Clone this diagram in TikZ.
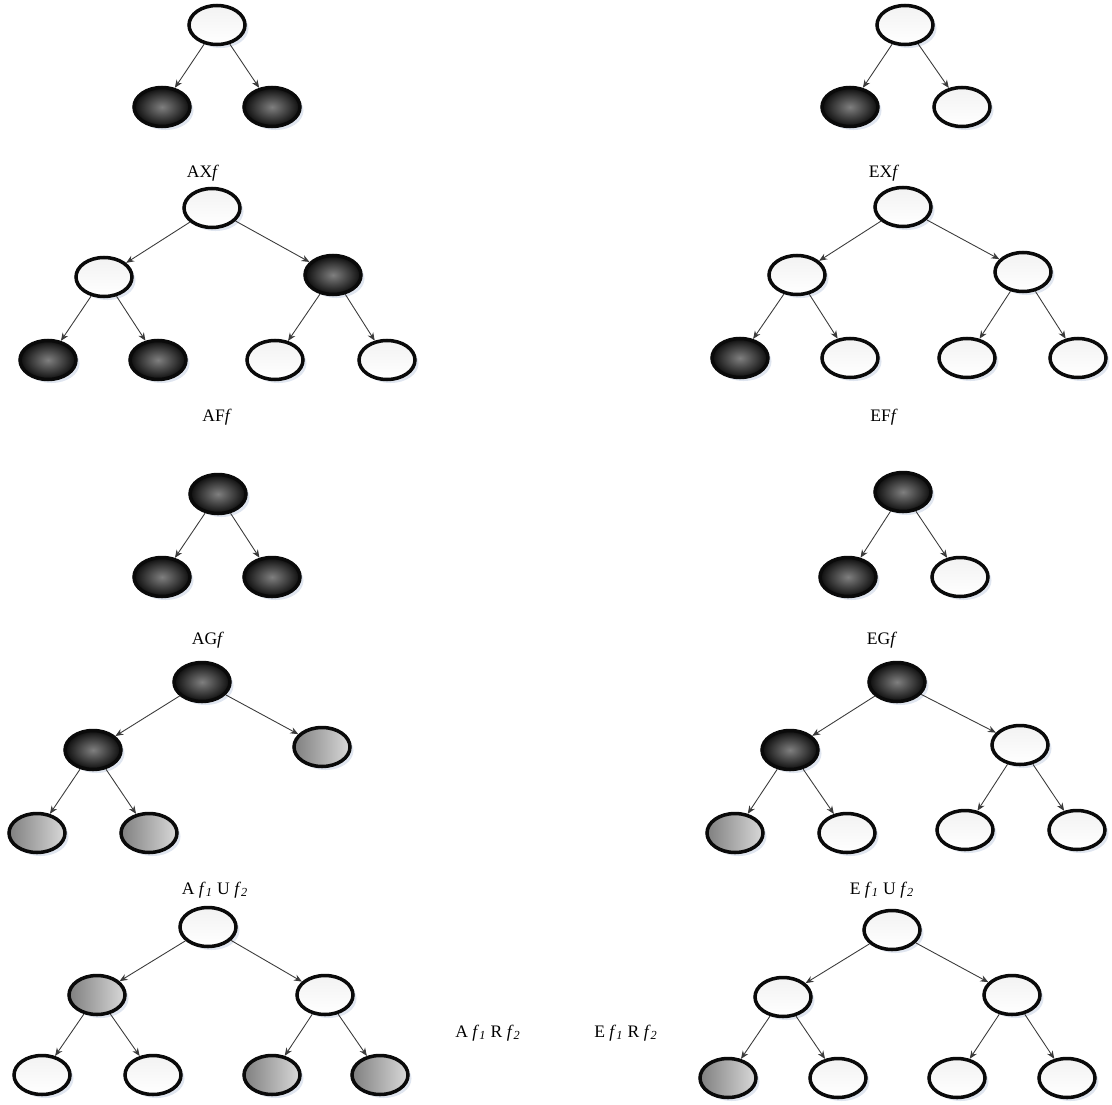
\documentclass[tikz,border=0pt]{standalone}
\usepackage{fontspec}
\setmainfont{Liberation Serif}
\usetikzlibrary{arrows.meta,shadows,shapes.geometric}
\definecolor{Ink}{HTML}{0A0A0A}
\definecolor{Wire}{HTML}{3A3A3A}
\definecolor{Haze}{HTML}{DDE3EE}
\newcommand{\fsb}[1]{\textit{f}\textsubscript{\textit{#1}}}
\tikzset{
  vertex/.style={
    ellipse, draw=Ink, line width=2pt, inner sep=0pt,
    minimum width=1.12cm, minimum height=0.78cm,
    drop shadow={shadow xshift=2pt, shadow yshift=-2pt, fill=Haze, opacity=0.9}
  },
  fstate/.style={vertex, inner color=black!50, outer color=black!95},
  gstate/.style={vertex, left color=black!50, right color=black!15},
  nstate/.style={vertex, top color=black!5, bottom color=white},
  flow/.style={-{Stealth[length=1.6mm,width=1.3mm]}, line width=0.5pt, draw=Wire},
  caption/.style={font=\fontsize{10}{12}\selectfont, inner sep=1pt}
}

\begin{document}
\begin{tikzpicture}[x=0.02cm,y=-0.02cm]
    \useasboundingbox (0,0) rectangle (1112,1105);
    \node[nstate] (ax) at (217,25) {};
    \node[fstate] (axl) at (162,107) {};
    \node[fstate] (axr) at (272,107) {};
    \node[caption] (axlab) at (203,173) {AX\textit{f}};
    \draw[flow] (ax)--(axl);
    \draw[flow] (ax)--(axr);

    \node[nstate] (ex) at (905,25) {};
    \node[fstate] (exl) at (850,107) {};
    \node[nstate] (exr) at (962,107) {};
    \node[caption] (exlab) at (884,173) {EX\textit{f}};
    \draw[flow] (ex)--(exl);
    \draw[flow] (ex)--(exr);

    \node[nstate] (af) at (212,208) {};
    \node[nstate] (afl) at (104,277) {};
    \node[fstate] (afr) at (333,275) {};
    \node[fstate] (afll) at (48,360) {};
    \node[fstate] (aflr) at (158,360) {};
    \node[nstate] (afrl) at (275,360) {};
    \node[nstate] (afrr) at (387,360) {};
    \node[caption] (aflab) at (217,417) {AF\textit{f}};
    \draw[flow] (af)--(afl);
    \draw[flow] (af)--(afr);
    \draw[flow] (afl)--(afll);
    \draw[flow] (afl)--(aflr);
    \draw[flow] (afr)--(afrl);
    \draw[flow] (afr)--(afrr);

    \node[nstate] (ef) at (903,207) {};
    \node[nstate] (efl) at (797,275) {};
    \node[nstate] (efr) at (1023,272) {};
    \node[fstate] (efll) at (740,358) {};
    \node[nstate] (eflr) at (850,358) {};
    \node[nstate] (efrl) at (967,358) {};
    \node[nstate] (efrr) at (1078,358) {};
    \node[caption] (eflab) at (884,417) {EF\textit{f}};
    \draw[flow] (ef)--(efl);
    \draw[flow] (ef)--(efr);
    \draw[flow] (efl)--(efll);
    \draw[flow] (efl)--(eflr);
    \draw[flow] (efr)--(efrl);
    \draw[flow] (efr)--(efrr);

    \node[fstate] (ag) at (218,494) {};
    \node[fstate] (agl) at (162,577) {};
    \node[fstate] (agr) at (272,577) {};
    \node[caption] (aglab) at (208,640) {AG\textit{f}};
    \draw[flow] (ag)--(agl);
    \draw[flow] (ag)--(agr);

    \node[fstate] (eg) at (903,492) {};
    \node[fstate] (egl) at (848,577) {};
    \node[nstate] (egr) at (960,577) {};
    \node[caption] (eglab) at (882,640) {EG\textit{f}};
    \draw[flow] (eg)--(egl);
    \draw[flow] (eg)--(egr);

    \node[fstate] (au) at (202,682) {};
    \node[fstate] (aul) at (93,750) {};
    \node[gstate] (aur) at (322,747) {};
    \node[gstate] (aull) at (37,833) {};
    \node[gstate] (aulr) at (149,833) {};
    \node[caption] (aulab) at (215,890) {A \fsb{1} U \fsb{2}};
    \draw[flow] (au)--(aul);
    \draw[flow] (au)--(aur);
    \draw[flow] (aul)--(aull);
    \draw[flow] (aul)--(aulr);

    \node[fstate] (eu) at (897,682) {};
    \node[fstate] (eul) at (790,750) {};
    \node[nstate] (eur) at (1020,745) {};
    \node[gstate] (eull) at (735,833) {};
    \node[nstate] (eulr) at (847,833) {};
    \node[nstate] (eurl) at (965,830) {};
    \node[nstate] (eurr) at (1077,830) {};
    \node[caption] (eulab) at (882,890) {E \fsb{1} U \fsb{2}};
    \draw[flow] (eu)--(eul);
    \draw[flow] (eu)--(eur);
    \draw[flow] (eul)--(eull);
    \draw[flow] (eul)--(eulr);
    \draw[flow] (eur)--(eurl);
    \draw[flow] (eur)--(eurr);

    \node[nstate] (ar) at (208,927) {};
    \node[gstate] (arl) at (97,995) {};
    \node[nstate] (arr) at (325,995) {};
    \node[nstate] (arll) at (42,1075) {};
    \node[nstate] (arlr) at (153,1075) {};
    \node[gstate] (arrl) at (272,1075) {};
    \node[gstate] (arrr) at (380,1075) {};
    \node[caption] (arlab) at (488,1033) {A \fsb{1} R \fsb{2}};
    \draw[flow] (ar)--(arl);
    \draw[flow] (ar)--(arr);
    \draw[flow] (arl)--(arll);
    \draw[flow] (arl)--(arlr);
    \draw[flow] (arr)--(arrl);
    \draw[flow] (arr)--(arrr);

    \node[nstate] (er) at (892,930) {};
    \node[nstate] (erl) at (783,997) {};
    \node[nstate] (err) at (1012,995) {};
    \node[gstate] (erll) at (728,1078) {};
    \node[nstate] (erlr) at (838,1078) {};
    \node[nstate] (errl) at (957,1078) {};
    \node[nstate] (errr) at (1067,1078) {};
    \node[caption] (erlab) at (626,1033) {E \fsb{1} R \fsb{2}};
    \draw[flow] (er)--(erl);
    \draw[flow] (er)--(err);
    \draw[flow] (erl)--(erll);
    \draw[flow] (erl)--(erlr);
    \draw[flow] (err)--(errl);
    \draw[flow] (err)--(errr);
  \end{tikzpicture}
\end{document}
